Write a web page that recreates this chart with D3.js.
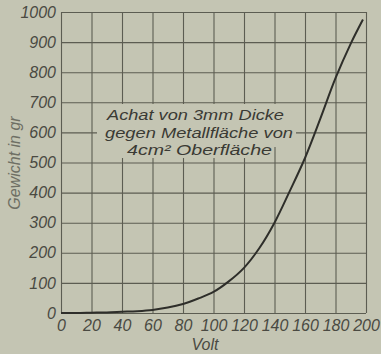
<!DOCTYPE html>
<html>
<head>
<meta charset="utf-8">
<script src="https://cdn.jsdelivr.net/npm/d3@7"></script>
<style>
  body { margin: 0; background: #c4c5b3; }
  svg { display: block; }
  .tick text { font-family: "Liberation Sans", sans-serif; font-style: italic; font-size: 16px; fill: #4a4a42; }
</style>
</head>
<body>
<div id="chart"></div>
<script>
// Spannung (Volt) und Gewicht (gr)
var volts   = [0, 10, 20, 30, 40, 50, 60, 70, 80, 90, 100, 110, 120, 130, 140, 150, 160, 170, 180, 190, 198];
var weights = [0, 0, 1, 2, 4, 6, 10, 18, 30, 48, 70, 105, 150, 215, 300, 405, 515, 645, 780, 895, 975];
var xTicks = [0, 20, 40, 60, 80, 100, 120, 140, 160, 180, 200];
var yTicks = [0, 100, 200, 300, 400, 500, 600, 700, 800, 900, 1000];
var noteLines = ["Achat von 3mm Dicke", "gegen Metallfläche von", "4cm² Oberfläche"];

var svgWidth = 381, svgHeight = 354;
var margin = { top: 12, right: 15, bottom: 41, left: 61 };
var width = svgWidth - margin.left - margin.right;
var height = svgHeight - margin.top - margin.bottom;

var svg = d3.select("#chart").append("svg")
  .attr("width", svgWidth)
  .attr("height", svgHeight);

svg.append("rect").attr("width", svgWidth).attr("height", svgHeight).attr("fill", "#c4c5b3");

var chartGroup = svg.append("g")
  .attr("transform", `translate(${margin.left}, ${margin.top})`);

var x = d3.scaleLinear().domain([0, 200]).range([0, width]);
var y = d3.scaleLinear().domain([0, 1000]).range([height, 0]);

// grid
chartGroup.append("g")
  .attr("transform", `translate(0, ${height})`)
  .call(d3.axisBottom(x).tickValues(xTicks).tickSize(-height).tickFormat(""))
  .call(g => g.select(".domain").remove())
  .selectAll("line").attr("stroke", "#5c5d52").attr("stroke-width", 1.1);

chartGroup.append("g")
  .call(d3.axisLeft(y).tickValues(yTicks).tickSize(-width).tickFormat(""))
  .call(g => g.select(".domain").remove())
  .selectAll("line").attr("stroke", "#5c5d52").attr("stroke-width", 1.1);

// tick labels
chartGroup.append("g")
  .attr("transform", `translate(0, ${height})`)
  .call(d3.axisBottom(x).tickValues(xTicks).tickSize(0).tickPadding(7).tickFormat(d3.format("d")))
  .call(g => g.select(".domain").remove());

chartGroup.append("g")
  .call(d3.axisLeft(y).tickValues(yTicks).tickSize(0).tickPadding(5).tickFormat(d3.format("d")))
  .call(g => g.select(".domain").remove());

// text box covering the grid
chartGroup.append("rect")
  .attr("x", 36).attr("y", 92).attr("width", 199).attr("height", 43)
  .attr("fill", "#c4c5b3");
chartGroup.append("rect")
  .attr("x", 36).attr("y", 134).attr("width", 175).attr("height", 12)
  .attr("fill", "#c4c5b3");

var noteX = [46, 44, 66];
var noteW = [177, 188, 145];
chartGroup.selectAll(".note")
  .data(noteLines)
  .enter()
  .append("text")
  .attr("class", "note")
  .attr("x", (d, i) => noteX[i])
  .attr("y", (d, i) => 108 + i * 17.5)
  .attr("textLength", (d, i) => noteW[i])
  .attr("lengthAdjust", "spacingAndGlyphs")
  .style("font-family", "Liberation Sans, sans-serif")
  .style("font-style", "italic")
  .style("font-size", "15px")
  .attr("fill", "#3a3a34")
  .text(d => d);

// curve
var line = d3.line()
  .x((d, i) => x(volts[i]))
  .y(d => y(d))
  .curve(d3.curveCatmullRom);

chartGroup.append("path")
  .datum(weights)
  .attr("d", line)
  .attr("fill", "none")
  .attr("stroke", "#2e2e2a")
  .attr("stroke-width", 2);

// axis titles
svg.append("text")
  .attr("x", 205).attr("y", 350)
  .attr("text-anchor", "middle")
  .style("font-family", "Liberation Sans, sans-serif")
  .style("font-style", "italic")
  .style("font-size", "16px")
  .attr("fill", "#4a4a42")
  .text("Volt");

svg.append("text")
  .attr("transform", "translate(20, 163) rotate(-90)")
  .attr("text-anchor", "middle")
  .style("font-family", "Liberation Sans, sans-serif")
  .style("font-style", "italic")
  .style("font-size", "16px")
  .attr("fill", "#6e6f64")
  .text("Gewicht in gr");
</script>
</body>
</html>
